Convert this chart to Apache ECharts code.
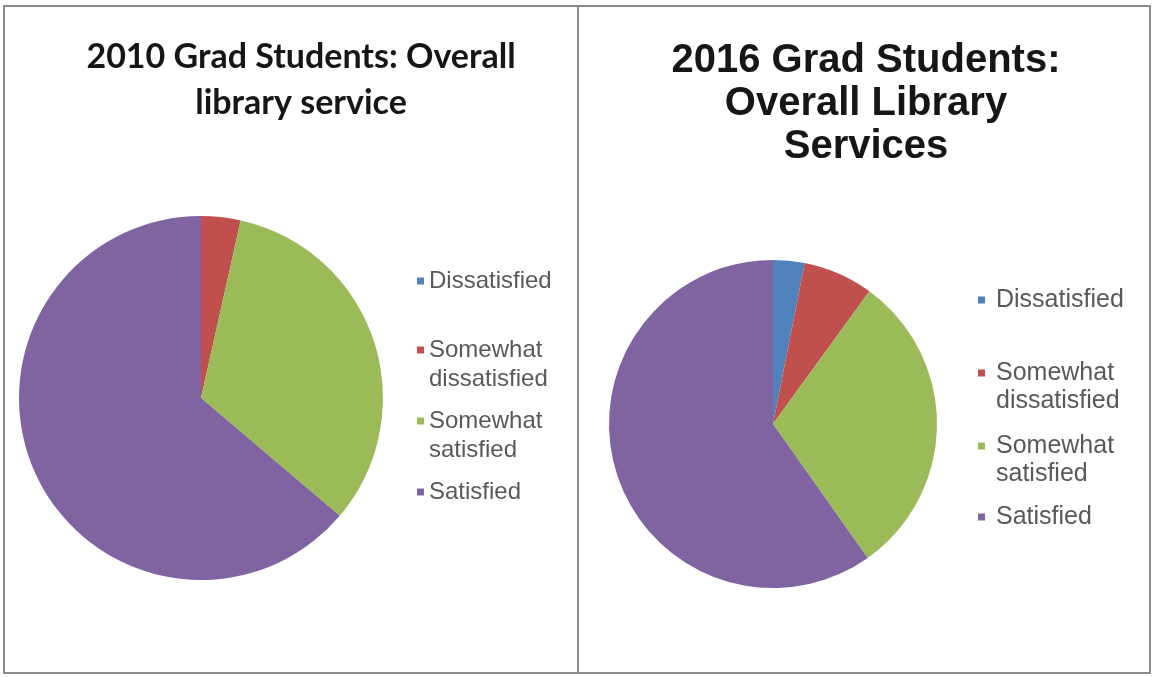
<!DOCTYPE html>
<html>
<head>
<meta charset="utf-8">
<script src="https://cdn.jsdelivr.net/npm/echarts@6/dist/echarts.min.js"></script>
<style>
  html, body { margin: 0; padding: 0; background: #fff; }
  #chart { width: 1155px; height: 677px; }
</style>
</head>
<body>
<div id="chart"></div>
<script>
// Survey answers, shared by both years
const categories = ['Dissatisfied', 'Somewhat dissatisfied', 'Somewhat satisfied', 'Satisfied'];
// Legend text, wrapped the way it is shown
const legendLabels = ['Dissatisfied', 'Somewhat\ndissatisfied', 'Somewhat\nsatisfied', 'Satisfied'];
// Share of grad students (%) per answer
const values2010 = [0, 3.5, 32.7, 63.8];
const values2016 = [3.1, 6.9, 30.2, 59.8];
// Chart titles
const title2010 = '2010 Grad Students: Overall\nlibrary service';
const title2016 = '2016 Grad Students:\nOverall Library\nServices';

const palette = ['#4F81BD', '#C0504D', '#9BBB59', '#8064A2'];

// Layout of each panel: pie placement, title and legend styling
const panels = [
  {
    name: '2010', values: values2010, title: title2010,
    center: [201, 398], radius: 182,
    titleX: 301, titleTop: 34, titleFont: 'Lato', titleSize: 34, titleLine: 46,
    legendLeft: 417, legendTops: [281, 350, 421, 492],
    legendSize: 24, legendLine: 29, textPad: 0
  },
  {
    name: '2016', values: values2016, title: title2016,
    center: [773, 424], radius: 164,
    titleX: 866, titleTop: 39, titleFont: 'Liberation Sans', titleSize: 40, titleLine: 43,
    legendLeft: 978, legendTops: [300, 373, 446, 517],
    legendSize: 25, legendLine: 28, textPad: 6
  }
];

const ICON = 7;
const labelOf = {};
categories.forEach((c, i) => { labelOf[c] = legendLabels[i]; });

const titles = [];
const series = [];
const legends = [];

panels.forEach(p => {
  titles.push({
    text: p.title,
    left: p.titleX,
    top: p.titleTop,
    textAlign: 'center',
    padding: 0,
    textStyle: {
      fontFamily: p.titleFont,
      fontWeight: 'bold',
      fontSize: p.titleSize,
      lineHeight: p.titleLine,
      color: '#161616'
    }
  });

  series.push({
    type: 'pie',
    name: p.name,
    center: p.center,
    radius: p.radius,
    startAngle: 90,
    clockwise: true,
    minAngle: 0,
    avoidLabelOverlap: false,
    label: { show: false },
    labelLine: { show: false },
    emphasis: { disabled: true },
    itemStyle: { borderWidth: 0 },
    data: categories.map((c, i) => ({
      name: c,
      value: p.values[i],
      itemStyle: { color: palette[i] }
    }))
  });

  // One legend per entry so each can sit at its own row
  categories.forEach((c, i) => {
    const twoLines = legendLabels[i].indexOf('\n') >= 0;
    // For wrapped entries, the square is aligned with the first text line
    const h = twoLines ? p.legendLine + ICON : ICON;
    const icon = twoLines
      ? 'path://M0,0h' + ICON + 'v' + ICON + 'h-' + ICON + 'z M0,' + h + 'h' + ICON
      : 'rect';
    legends.push({
      data: [{ name: c, icon: icon }],
      orient: 'vertical',
      left: p.legendLeft,
      // the box top sits half a text line above the first line's centre
      top: p.legendTops[i] - p.legendLine / 2,
      padding: 0,
      itemWidth: ICON,
      itemHeight: h,
      selectedMode: false,
      itemStyle: { borderWidth: 0 },
      formatter: name => labelOf[name],
      textStyle: {
        fontFamily: 'Liberation Sans',
        fontSize: p.legendSize,
        lineHeight: p.legendLine,
        color: '#595959',
        padding: [0, 0, 0, p.textPad]
      }
    });
  });
});

const chart = echarts.init(document.getElementById('chart'), null, { renderer: 'canvas' });
chart.setOption({
  backgroundColor: '#ffffff',
  animation: false,
  color: palette,
  title: titles,
  legend: legends,
  tooltip: { show: false },
  graphic: [
    {
      type: 'rect',
      shape: { x: 4, y: 6, width: 1146, height: 667 },
      style: { fill: 'none', stroke: '#8a8a8a', lineWidth: 2 },
      silent: true
    },
    {
      type: 'line',
      shape: { x1: 578, y1: 6, x2: 578, y2: 673 },
      style: { stroke: '#8a8a8a', lineWidth: 2 },
      silent: true
    }
  ],
  series: series
});
</script>
</body>
</html>
